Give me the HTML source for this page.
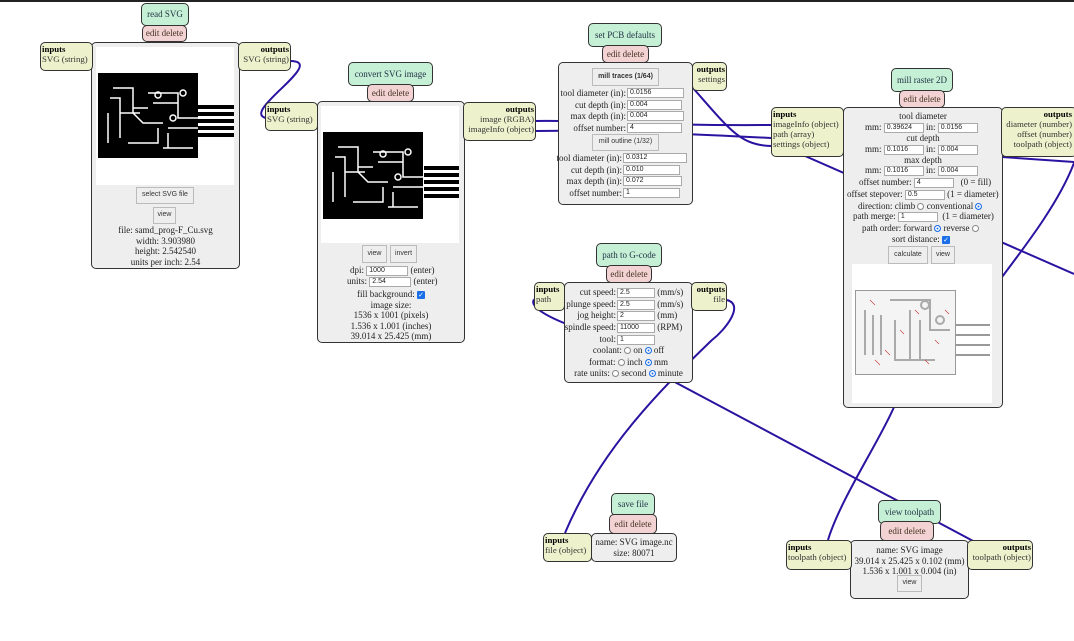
<!DOCTYPE html>
<html><head><meta charset="utf-8"><style>
*{box-sizing:border-box;margin:0;padding:0}
body{width:1074px;height:641px;background:#fff;position:relative;overflow:hidden;font-family:"Liberation Serif",serif;font-size:9px;color:#222;line-height:10.5px}
.a{position:absolute}
.t{position:absolute;background:#c5f0d6;border:1.5px solid #333;border-radius:5px;text-align:center;display:flex;align-items:center;justify-content:center;color:#234;white-space:nowrap}
.e{position:absolute;background:#f2d2d2;border:1.5px solid #333;border-radius:5px;text-align:center;display:flex;align-items:center;justify-content:center;color:#432;white-space:nowrap}
.m{position:absolute;background:#eee;border:1.5px solid #333;border-radius:5px}
.io{position:absolute;background:#eef2cc;border:1.5px solid #333;border-radius:5px;padding:1px 1px;color:#333;white-space:nowrap;font-size:8.8px;line-height:10px}
.io b{color:#000}
.r{text-align:right}
.btn{position:absolute;background:#eee;border:1px solid #bbb;font-family:"Liberation Sans",sans-serif;font-size:7px;display:flex;align-items:center;justify-content:center;color:#333;white-space:nowrap}
.in{display:inline-block;background:#fff;border:1px solid #aaa;height:10px;vertical-align:middle;font-family:"Liberation Sans",sans-serif;font-size:7px;line-height:8px;padding-left:2px;text-align:left}
.row{position:absolute;white-space:nowrap}
.c{text-align:center}
.rad{display:inline-block;width:7px;height:7px;border:1px solid #888;border-radius:50%;vertical-align:middle;background:#fff}
.rad.on{background:#1a6ee8;border-color:#1a6ee8;box-shadow:inset 0 0 0 1.5px #fff}
.chk{display:inline-block;width:8px;height:8px;background:#1a6ee8;vertical-align:middle;border-radius:1px;color:#fff;font-size:7px;line-height:8px;text-align:center}
</style></head><body>
<div class="a" style="left:0;top:0;width:1074px;height:2px;background:#222"></div>

<svg class="a" style="left:0;top:0" width="1074" height="641">
<g fill="none" stroke="#2b12a0" stroke-width="2">
<path d="M289,61 C330,60 240,112 266,118"/>
<path d="M535,121 C600,120 650,126 771,125"/>
<path d="M535,131 C600,130 650,132 771,138"/>
<path d="M693,88 C730,130 740,145 771,146"/>
<path d="M780,145 L1074,274"/>
<path d="M1002,157 L1074,162"/>
<path d="M1002,277 C1030,240 1060,200 1074,163"/>
<path d="M538,298 C528,300 532,310 564,323 L975,542"/>
<path d="M727,300 C745,305 725,330 712,340 C660,390 600,450 565,533"/>
<path d="M894,407 C880,440 840,500 828,540"/>
</g></svg>

<!-- read SVG -->
<div class="t" style="left:141px;top:3px;width:48px;height:23px">read SVG</div>
<div class="e" style="left:142px;top:25px;width:45px;height:17px">edit delete</div>
<div class="m" style="left:91px;top:42px;width:149px;height:227px"></div>
<div class="a" style="left:96px;top:47px;width:138px;height:138px;background:#fff"></div>
<svg class="a" style="left:98px;top:73px" width="104" height="86"><rect width="100" height="85" fill="#000"/><g stroke="#fff" stroke-width="1.5" fill="none"><path d="M15,15 h20 v20 h15 M12,25 h10 v15 h20 M10,40 v30 M22,35 v30 M35,25 v15 l10,10 h20 M50,20 h30 v25 h20 M55,30 h25 M30,70 h30 v-15 M70,55 h30 M70,60 v15 M65,75 h30"/><circle cx="60" cy="22" r="3"/><circle cx="85" cy="20" r="3"/><circle cx="75" cy="45" r="3"/></g></svg>
<div class="a" style="left:198px;top:105px;width:36px;height:33px;background:repeating-linear-gradient(#000 0 4px,#fff 4px 7px)"></div>
<div class="btn" style="left:136px;top:187px;width:58px;height:17px">select SVG file</div>
<div class="btn" style="left:153px;top:207px;width:23px;height:17px">view</div>
<div class="row c" style="left:91px;top:225px;width:149px">file: samd_prog-F_Cu.svg<br>width: 3.903980<br>height: 2.542540<br>units per inch: 2.54</div>
<div class="io" style="left:40px;top:42px;width:53px;height:29px"><b>inputs</b><br>SVG (string)</div>
<div class="io r" style="left:238px;top:42px;width:53px;height:29px"><b>outputs</b><br>SVG (string)</div>

<!-- convert SVG image -->
<div class="t" style="left:348px;top:62px;width:85px;height:24px">convert SVG image</div>
<div class="e" style="left:367px;top:84px;width:47px;height:18px">edit delete</div>
<div class="m" style="left:317px;top:101px;width:148px;height:242px"></div>
<div class="a" style="left:321px;top:106px;width:138px;height:137px;background:#fff"></div>
<svg class="a" style="left:323px;top:132px" width="104" height="88"><rect width="100" height="87" fill="#000"/><g stroke="#fff" stroke-width="1.5" fill="none"><path d="M15,15 h20 v20 h15 M12,25 h10 v15 h20 M10,40 v30 M22,35 v30 M35,25 v15 l10,10 h20 M50,20 h30 v25 h20 M55,30 h25 M30,70 h30 v-15 M70,55 h30 M70,60 v15 M65,75 h30"/><circle cx="60" cy="22" r="3"/><circle cx="85" cy="20" r="3"/><circle cx="75" cy="45" r="3"/></g></svg>
<div class="a" style="left:424px;top:166px;width:35px;height:33px;background:repeating-linear-gradient(#000 0 4px,#fff 4px 7px)"></div>
<div class="btn" style="left:362px;top:245px;width:25px;height:18px">view</div>
<div class="btn" style="left:390px;top:245px;width:27px;height:18px">invert</div>
<div class="row" style="left:350px;top:265px">dpi: <span class="in" style="width:42px">1000</span> (enter)</div>
<div class="row" style="left:347px;top:276px">units: <span class="in" style="width:42px">2.54</span> (enter)</div>
<div class="row c" style="left:317px;top:289px;width:148px">fill background: <span class="chk">✓</span><br>image size:<br>1536 x 1001 (pixels)<br>1.536 x 1.001 (inches)<br>39.014 x 25.425 (mm)</div>
<div class="io" style="left:265px;top:102px;width:53px;height:29px"><b>inputs</b><br>SVG (string)</div>
<div class="io r" style="left:463px;top:102px;width:73px;height:39px"><b>outputs</b><br>image (RGBA)<br>imageInfo (object)</div>

<!-- set PCB defaults -->
<div class="t" style="left:588px;top:23px;width:74px;height:24px">set PCB defaults</div>
<div class="e" style="left:602px;top:45px;width:47px;height:18px">edit delete</div>
<div class="m" style="left:558px;top:62px;width:135px;height:143px"></div>
<div class="btn" style="left:592px;top:68px;width:67px;height:18px;font-weight:bold">mill traces (1/64)</div>
<div class="row r" style="left:558px;top:88px;width:68px;line-height:11.5px">tool diameter (in):<br>cut depth (in):<br>max depth (in):<br>offset number:</div>
<div class="a" style="left:627px;top:88px"><span class="in" style="width:57px;display:block;margin-bottom:1.5px">0.0156</span><span class="in" style="width:55px;display:block;margin-bottom:1.5px">0.004</span><span class="in" style="width:57px;display:block;margin-bottom:1.5px">0.004</span><span class="in" style="width:55px;display:block">4</span></div>
<div class="btn" style="left:592px;top:134px;width:67px;height:17px">mill outline (1/32)</div>
<div class="row r" style="left:556px;top:153px;width:66px;line-height:11.5px">tool diameter (in):<br>cut depth (in):<br>max depth (in):<br>offset number:</div>
<div class="a" style="left:623px;top:153px"><span class="in" style="width:64px;display:block;margin-bottom:1.5px">0.0312</span><span class="in" style="width:57px;display:block;margin-bottom:1.5px">0.010</span><span class="in" style="width:59px;display:block;margin-bottom:1.5px">0.072</span><span class="in" style="width:57px;display:block">1</span></div>
<div class="io r" style="left:692px;top:62px;width:35px;height:29px"><b>outputs</b><br>settings</div>

<!-- mill raster 2D -->
<div class="t" style="left:891px;top:68px;width:62px;height:24px">mill raster 2D</div>
<div class="e" style="left:899px;top:90px;width:46px;height:18px">edit delete</div>
<div class="m" style="left:843px;top:107px;width:160px;height:301px"></div>
<div class="row c" style="left:843px;top:111px;width:160px">tool diameter</div>
<div class="row" style="left:865px;top:122px">mm: <span class="in" style="width:40px">0.39624</span> in: <span class="in" style="width:40px">0.0156</span></div>
<div class="row c" style="left:843px;top:133px;width:160px">cut depth</div>
<div class="row" style="left:865px;top:144px">mm: <span class="in" style="width:40px">0.1016</span> in: <span class="in" style="width:40px">0.004</span></div>
<div class="row c" style="left:843px;top:155px;width:160px">max depth</div>
<div class="row" style="left:865px;top:165px">mm: <span class="in" style="width:40px">0.1016</span> in: <span class="in" style="width:40px">0.004</span></div>
<div class="row" style="left:859px;top:177px">offset number: <span class="in" style="width:40px">4</span> &nbsp;&nbsp;(0 = fill)</div>
<div class="row" style="left:847px;top:189px">offset stepover: <span class="in" style="width:40px">0.5</span> (1 = diameter)</div>
<div class="row" style="left:858px;top:201px">direction: climb <span class="rad"></span> conventional <span class="rad on"></span></div>
<div class="row" style="left:853px;top:211px">path merge: <span class="in" style="width:40px">1</span> &nbsp;(1 = diameter)</div>
<div class="row" style="left:862px;top:223px">path order: forward <span class="rad on"></span> reverse <span class="rad"></span></div>
<div class="row" style="left:892px;top:234px">sort distance: <span class="chk">✓</span></div>
<div class="btn" style="left:888px;top:246px;width:40px;height:18px">calculate</div>
<div class="btn" style="left:931px;top:246px;width:24px;height:18px">view</div>
<div class="a" style="left:852px;top:264px;width:140px;height:139px;background:#fff"></div>
<svg class="a" style="left:855px;top:290px" width="135" height="90"><rect x="0.5" y="0.5" width="100" height="84" fill="#f4f4f4" stroke="#999"/><g stroke="#aaa" fill="none" stroke-width="2"><path d="M10,20 v45 M18,25 v40 M26,25 v40 M35,10 h40 v30 h20 M40,30 v40 h40 M55,20 v50 M65,30 v40"/><circle cx="70" cy="15" r="4"/><circle cx="85" cy="30" r="4"/></g><g stroke="#c33" fill="none" stroke-width="0.6"><path d="M15,10 l5,5 M30,60 l5,5 M45,40 l4,4 M60,20 l4,4 M80,50 l4,4 M90,20 l4,4 M20,70 l5,5 M70,70 l4,4 M100,55 h30"/></g><g stroke="#999" stroke-width="2"><path d="M100,35 h35 M100,45 h35 M100,55 h35 M100,65 h35"/></g></svg>
<div class="io" style="left:771px;top:107px;width:73px;height:50px"><b>inputs</b><br>imageInfo (object)<br>path (array)<br>settings (object)</div>
<div class="io r" style="left:1001px;top:107px;width:76px;height:50px;padding-right:4px"><b>outputs</b><br>diameter (number)<br>offset (number)<br>toolpath (object)</div>

<!-- path to G-code -->
<div class="t" style="left:596px;top:243px;width:66px;height:24px">path to G-code</div>
<div class="e" style="left:606px;top:265px;width:46px;height:18px">edit delete</div>
<div class="m" style="left:564px;top:282px;width:129px;height:101px"></div>
<div class="row r" style="left:563px;top:287px;width:53px;line-height:11.7px">cut speed:<br>plunge speed:<br>jog height:<br>spindle speed:<br>tool:</div>
<div class="a" style="left:617px;top:287px;line-height:11.7px;white-space:nowrap"><span class="in" style="width:38px">2.5</span> (mm/s)<br><span class="in" style="width:38px">2.5</span> (mm/s)<br><span class="in" style="width:38px">2</span> (mm)<br><span class="in" style="width:38px">11000</span> (RPM)<br><span class="in" style="width:38px">1</span></div>
<div class="row c" style="left:564px;top:345px;width:129px;line-height:11.5px">coolant: <span class="rad"></span> on <span class="rad on"></span> off<br>format: <span class="rad"></span> inch <span class="rad on"></span> mm<br>rate units: <span class="rad"></span> second <span class="rad on"></span> minute</div>
<div class="io" style="left:534px;top:282px;width:31px;height:29px"><b>inputs</b><br>path</div>
<div class="io r" style="left:691px;top:282px;width:36px;height:29px"><b>outputs</b><br>file</div>

<!-- save file -->
<div class="t" style="left:611px;top:493px;width:44px;height:23px">save file</div>
<div class="e" style="left:609px;top:514px;width:48px;height:20px">edit delete</div>
<div class="m" style="left:591px;top:533px;width:86px;height:29px;text-align:center;padding-top:3px;white-space:nowrap">name: SVG image.nc<br>size: 80071</div>
<div class="io" style="left:543px;top:533px;width:49px;height:29px"><b>inputs</b><br>file (object)</div>

<!-- view toolpath -->
<div class="t" style="left:878px;top:500px;width:63px;height:24px">view toolpath</div>
<div class="e" style="left:880px;top:521px;width:54px;height:20px">edit delete</div>
<div class="m" style="left:850px;top:540px;width:119px;height:59px;text-align:center;padding-top:4px;white-space:nowrap">name: SVG image<br>39.014 x 25.425 x 0.102 (mm)<br>1.536 x 1.001 x 0.004 (in)</div>
<div class="btn" style="left:897px;top:575px;width:25px;height:17px">view</div>
<div class="io" style="left:786px;top:540px;width:66px;height:30px"><b>inputs</b><br>toolpath (object)</div>
<div class="io r" style="left:967px;top:540px;width:66px;height:30px"><b>outputs</b><br>toolpath (object)</div>
</body></html>
